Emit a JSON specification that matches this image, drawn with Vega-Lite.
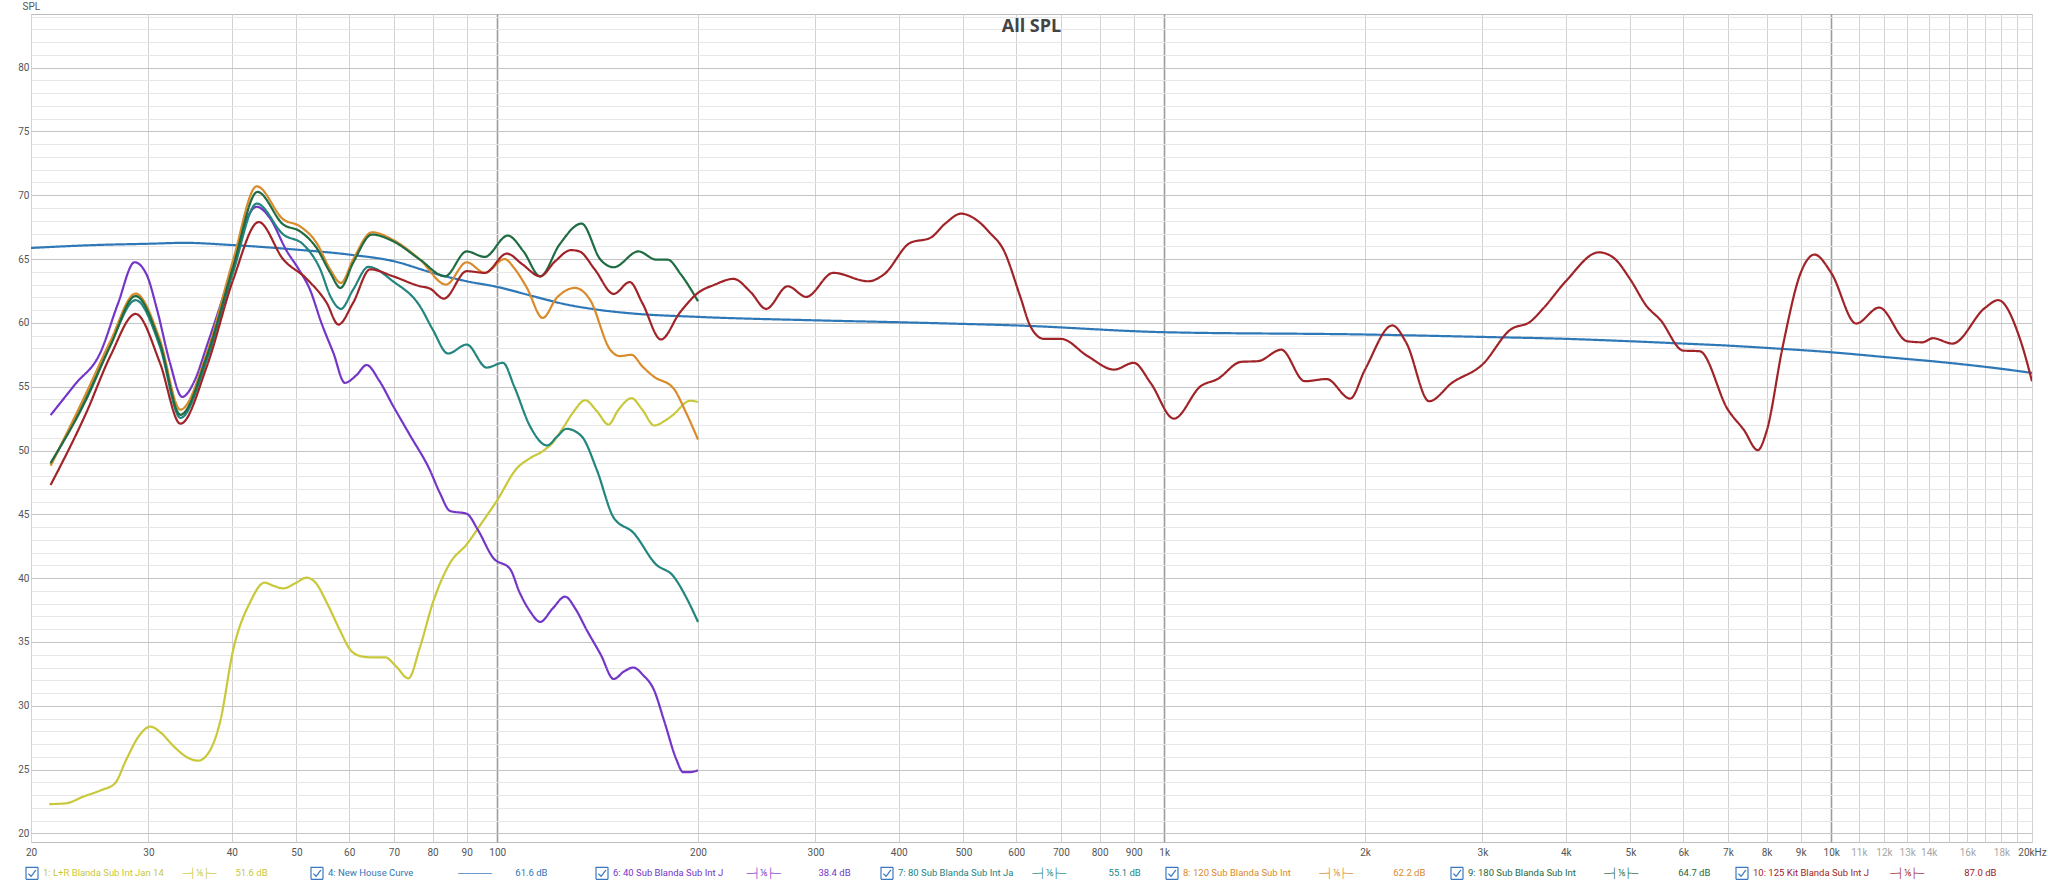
{
  "$schema": "https://vega.github.io/schema/vega-lite/v6.json",
  "width": 2001,
  "height": 828,
  "autosize": {"type": "none"},
  "padding": {"left": 31, "top": 14, "right": 16, "bottom": 41},
  "background": "#ffffff",
  "config": {"view": {"stroke": "#bdbdbd", "strokeWidth": 1}},
  "title": {"text": "All SPL", "fontSize": 18, "fontWeight": "bold", "color": "#444444", "font": "Open Sans", "anchor": "middle", "offset": -35},
  "data": {"values": [
    {"s":"1","f":21.3,"v":22.3},{"s":"1","f":22.5,"v":22.35},{"s":"1","f":24,"v":22.9},{"s":"1","f":25.5,"v":23.4},{"s":"1","f":26.7,"v":23.9},{"s":"1","f":27.8,"v":25.8},{"s":"1","f":29,"v":27.6},{"s":"1","f":30.2,"v":28.37},{"s":"1","f":31.3,"v":27.9},{"s":"1","f":32.7,"v":26.85},{"s":"1","f":34.2,"v":26.0},{"s":"1","f":35.6,"v":25.7},{"s":"1","f":37,"v":26.4},{"s":"1","f":38.4,"v":28.7},{"s":"1","f":40.2,"v":34.4},{"s":"1","f":42.6,"v":38.1},{"s":"1","f":44.8,"v":39.65},{"s":"1","f":46.2,"v":39.4},{"s":"1","f":47.8,"v":39.2},{"s":"1","f":49.8,"v":39.6},{"s":"1","f":51.8,"v":40.04},{"s":"1","f":53.5,"v":39.6},{"s":"1","f":55.5,"v":38.1},{"s":"1","f":58,"v":36.0},{"s":"1","f":60.2,"v":34.4},{"s":"1","f":62.3,"v":33.9},{"s":"1","f":64.5,"v":33.8},{"s":"1","f":67.9,"v":33.8},{"s":"1","f":70.5,"v":33.1},{"s":"1","f":73.6,"v":32.15},{"s":"1","f":76.5,"v":34.5},{"s":"1","f":80.1,"v":38.1},{"s":"1","f":85,"v":41.2},{"s":"1","f":90,"v":42.65},{"s":"1","f":95,"v":44.4},{"s":"1","f":99.7,"v":46.0},{"s":"1","f":107,"v":48.6},{"s":"1","f":112,"v":49.4},{"s":"1","f":117,"v":49.95},{"s":"1","f":121,"v":50.6},{"s":"1","f":125.6,"v":51.8},{"s":"1","f":130,"v":53.0},{"s":"1","f":135.5,"v":53.94},{"s":"1","f":141,"v":53.1},{"s":"1","f":146.8,"v":52.04},{"s":"1","f":152,"v":53.2},{"s":"1","f":159,"v":54.1},{"s":"1","f":165,"v":53.2},{"s":"1","f":172,"v":51.96},{"s":"1","f":178,"v":52.3},{"s":"1","f":183.6,"v":52.8},{"s":"1","f":194.6,"v":53.9},{"s":"1","f":200,"v":53.8},
    {"s":"4","f":20,"v":65.87},{"s":"4","f":25,"v":66.1},{"s":"4","f":30,"v":66.2},{"s":"4","f":34,"v":66.27},{"s":"4","f":40,"v":66.1},{"s":"4","f":50,"v":65.74},{"s":"4","f":60,"v":65.35},{"s":"4","f":70,"v":64.83},{"s":"4","f":80,"v":63.92},{"s":"4","f":90,"v":63.26},{"s":"4","f":100,"v":62.82},{"s":"4","f":113,"v":62.1},{"s":"4","f":127,"v":61.44},{"s":"4","f":143,"v":61.0},{"s":"4","f":160,"v":60.73},{"s":"4","f":200,"v":60.47},{"s":"4","f":300,"v":60.2},{"s":"4","f":400,"v":60.05},{"s":"4","f":500,"v":59.92},{"s":"4","f":600,"v":59.8},{"s":"4","f":1000,"v":59.27},{"s":"4","f":2000,"v":59.09},{"s":"4","f":3000,"v":58.9},{"s":"4","f":4000,"v":58.75},{"s":"4","f":5000,"v":58.56},{"s":"4","f":6000,"v":58.38},{"s":"4","f":7000,"v":58.22},{"s":"4","f":8000,"v":58.04},{"s":"4","f":10000,"v":57.7},{"s":"4","f":12000,"v":57.33},{"s":"4","f":15000,"v":56.87},{"s":"4","f":18000,"v":56.4},{"s":"4","f":20000,"v":56.08},
    {"s":"6","f":21.4,"v":52.77},{"s":"6","f":23.3,"v":55.2},{"s":"6","f":25.4,"v":57.65},{"s":"6","f":27,"v":61.5},{"s":"6","f":28.6,"v":64.75},{"s":"6","f":29.8,"v":63.8},{"s":"6","f":30.9,"v":61.05},{"s":"6","f":32.3,"v":56.9},{"s":"6","f":33.7,"v":54.2},{"s":"6","f":35.2,"v":55.5},{"s":"6","f":36.7,"v":58.2},{"s":"6","f":40.2,"v":64.6},{"s":"6","f":42,"v":68.0},{"s":"6","f":43.6,"v":69.1},{"s":"6","f":45.5,"v":68.3},{"s":"6","f":48.4,"v":65.6},{"s":"6","f":50.4,"v":64.2},{"s":"6","f":52.4,"v":62.6},{"s":"6","f":54.5,"v":60.0},{"s":"6","f":56.8,"v":57.65},{"s":"6","f":59.1,"v":55.3},{"s":"6","f":61.5,"v":55.9},{"s":"6","f":63.7,"v":56.7},{"s":"6","f":66.5,"v":55.5},{"s":"6","f":69.8,"v":53.5},{"s":"6","f":74,"v":51.2},{"s":"6","f":79.2,"v":48.5},{"s":"6","f":82,"v":46.7},{"s":"6","f":85,"v":45.26},{"s":"6","f":90,"v":45.05},{"s":"6","f":93.5,"v":43.8},{"s":"6","f":98.6,"v":41.6},{"s":"6","f":104.6,"v":40.7},{"s":"6","f":108,"v":38.9},{"s":"6","f":112,"v":37.4},{"s":"6","f":116,"v":36.57},{"s":"6","f":121,"v":37.6},{"s":"6","f":126.4,"v":38.55},{"s":"6","f":131,"v":37.6},{"s":"6","f":136,"v":36.0},{"s":"6","f":143,"v":34.0},{"s":"6","f":149.5,"v":32.1},{"s":"6","f":155,"v":32.7},{"s":"6","f":160,"v":33.0},{"s":"6","f":165.5,"v":32.4},{"s":"6","f":171.6,"v":31.3},{"s":"6","f":178,"v":28.8},{"s":"6","f":185.6,"v":25.8},{"s":"6","f":190,"v":24.8},{"s":"6","f":194,"v":24.8},{"s":"6","f":200,"v":24.95},
    {"s":"7","f":21.4,"v":48.9},{"s":"7","f":24.2,"v":54.26},{"s":"7","f":26.3,"v":58.3},{"s":"7","f":28.7,"v":61.78},{"s":"7","f":31.2,"v":58.17},{"s":"7","f":33.5,"v":52.56},{"s":"7","f":36.7,"v":57.1},{"s":"7","f":40.2,"v":64.0},{"s":"7","f":43.6,"v":69.35},{"s":"7","f":47.8,"v":66.92},{"s":"7","f":51.2,"v":66.14},{"s":"7","f":54.3,"v":64.18},{"s":"7","f":56.2,"v":62.1},{"s":"7","f":58.3,"v":61.1},{"s":"7","f":60.8,"v":62.6},{"s":"7","f":64.1,"v":64.39},{"s":"7","f":69.8,"v":63.26},{"s":"7","f":76.6,"v":61.3},{"s":"7","f":80,"v":59.5},{"s":"7","f":84.4,"v":57.6},{"s":"7","f":90,"v":58.3},{"s":"7","f":96.4,"v":56.5},{"s":"7","f":102,"v":56.87},{"s":"7","f":106,"v":55.04},{"s":"7","f":112,"v":51.9},{"s":"7","f":118.8,"v":50.4},{"s":"7","f":123,"v":51.1},{"s":"7","f":127,"v":51.7},{"s":"7","f":133.8,"v":51.12},{"s":"7","f":141,"v":48.5},{"s":"7","f":149.5,"v":44.74},{"s":"7","f":160,"v":43.56},{"s":"7","f":173,"v":41.08},{"s":"7","f":183.6,"v":40.17},{"s":"7","f":192,"v":38.5},{"s":"7","f":200,"v":36.57},
    {"s":"8","f":21.4,"v":48.8},{"s":"8","f":24.2,"v":54.5},{"s":"8","f":26.3,"v":58.56},{"s":"8","f":28.7,"v":62.3},{"s":"8","f":31.2,"v":58.7},{"s":"8","f":33.5,"v":53.2},{"s":"8","f":36.7,"v":57.65},{"s":"8","f":40.2,"v":64.96},{"s":"8","f":43.6,"v":70.7},{"s":"8","f":47.8,"v":68.1},{"s":"8","f":50.6,"v":67.57},{"s":"8","f":53.6,"v":66.27},{"s":"8","f":56.2,"v":64.18},{"s":"8","f":58.3,"v":63.13},{"s":"8","f":60.8,"v":64.96},{"s":"8","f":64.9,"v":67.1},{"s":"8","f":69.8,"v":66.5},{"s":"8","f":76.6,"v":64.96},{"s":"8","f":83.8,"v":63.0},{"s":"8","f":90,"v":64.75},{"s":"8","f":95.8,"v":63.92},{"s":"8","f":102.6,"v":65.0},{"s":"8","f":106,"v":64.3},{"s":"8","f":110.8,"v":62.74},{"s":"8","f":117,"v":60.39},{"s":"8","f":122.8,"v":61.96},{"s":"8","f":130.8,"v":62.74},{"s":"8","f":137.7,"v":61.83},{"s":"8","f":147.7,"v":57.9},{"s":"8","f":152.6,"v":57.4},{"s":"8","f":159,"v":57.5},{"s":"8","f":165,"v":56.6},{"s":"8","f":171.6,"v":55.8},{"s":"8","f":183.6,"v":54.9},{"s":"8","f":192,"v":52.95},{"s":"8","f":200,"v":50.86},
    {"s":"9","f":21.4,"v":49.03},{"s":"9","f":24.2,"v":54.0},{"s":"9","f":26.3,"v":58.2},{"s":"9","f":28.7,"v":62.1},{"s":"9","f":31.2,"v":58.43},{"s":"9","f":33.5,"v":52.8},{"s":"9","f":36.7,"v":57.4},{"s":"9","f":40.2,"v":64.4},{"s":"9","f":43.7,"v":70.26},{"s":"9","f":47.8,"v":67.7},{"s":"9","f":50.6,"v":67.18},{"s":"9","f":53.6,"v":65.87},{"s":"9","f":56.2,"v":63.92},{"s":"9","f":58.2,"v":62.74},{"s":"9","f":60.8,"v":64.7},{"s":"9","f":64.9,"v":66.92},{"s":"9","f":69.8,"v":66.4},{"s":"9","f":76.6,"v":64.96},{"s":"9","f":83.5,"v":63.65},{"s":"9","f":90,"v":65.6},{"s":"9","f":95.8,"v":65.17},{"s":"9","f":103.7,"v":66.84},{"s":"9","f":109.5,"v":65.6},{"s":"9","f":116,"v":63.65},{"s":"9","f":124,"v":66.14},{"s":"9","f":133.8,"v":67.78},{"s":"9","f":142.8,"v":64.96},{"s":"9","f":149.5,"v":64.36},{"s":"9","f":162.8,"v":65.6},{"s":"9","f":173,"v":64.96},{"s":"9","f":180,"v":64.96},{"s":"9","f":188.5,"v":63.8},{"s":"9","f":200,"v":61.7},
    {"s":"10","f":21.4,"v":47.3},{"s":"10","f":24.2,"v":52.95},{"s":"10","f":26.3,"v":57.4},{"s":"10","f":28.7,"v":60.7},{"s":"10","f":31.2,"v":56.9},{"s":"10","f":33.5,"v":52.1},{"s":"10","f":36.7,"v":56.6},{"s":"10","f":40.2,"v":63.4},{"s":"10","f":43.9,"v":67.9},{"s":"10","f":47.8,"v":64.96},{"s":"10","f":51.8,"v":63.45},{"s":"10","f":55.5,"v":61.57},{"s":"10","f":57.8,"v":59.87},{"s":"10","f":60.8,"v":61.57},{"s":"10","f":64.5,"v":64.2},{"s":"10","f":69.8,"v":63.65},{"s":"10","f":76.6,"v":62.87},{"s":"10","f":79.2,"v":62.7},{"s":"10","f":83.2,"v":61.9},{"s":"10","f":90,"v":64.05},{"s":"10","f":95.8,"v":63.92},{"s":"10","f":103.4,"v":65.43},{"s":"10","f":109,"v":64.6},{"s":"10","f":116,"v":63.65},{"s":"10","f":122,"v":64.8},{"s":"10","f":129,"v":65.7},{"s":"10","f":132.8,"v":65.6},{"s":"10","f":140,"v":64.2},{"s":"10","f":149.5,"v":62.27},{"s":"10","f":158,"v":63.2},{"s":"10","f":165,"v":61.57},{"s":"10","f":176,"v":58.7},{"s":"10","f":187.8,"v":60.8},{"s":"10","f":200,"v":62.35},{"s":"10","f":212,"v":63.0},{"s":"10","f":226,"v":63.45},{"s":"10","f":240,"v":62.4},{"s":"10","f":253,"v":61.1},{"s":"10","f":272.6,"v":62.87},{"s":"10","f":290.6,"v":62.04},{"s":"10","f":319,"v":63.92},{"s":"10","f":360,"v":63.26},{"s":"10","f":380,"v":63.8},{"s":"10","f":416,"v":66.27},{"s":"10","f":446,"v":66.66},{"s":"10","f":470,"v":67.8},{"s":"10","f":496,"v":68.56},{"s":"10","f":525,"v":68.0},{"s":"10","f":548,"v":67.05},{"s":"10","f":574,"v":65.74},{"s":"10","f":608,"v":62.1},{"s":"10","f":630,"v":59.74},{"s":"10","f":660,"v":58.75},{"s":"10","f":700,"v":58.75},{"s":"10","f":768,"v":57.39},{"s":"10","f":841,"v":56.34},{"s":"10","f":900,"v":56.87},{"s":"10","f":954,"v":55.3},{"s":"10","f":1034,"v":52.5},{"s":"10","f":1134,"v":55.04},{"s":"10","f":1202,"v":55.6},{"s":"10","f":1304,"v":56.95},{"s":"10","f":1382,"v":57.0},{"s":"10","f":1498,"v":57.9},{"s":"10","f":1624,"v":55.43},{"s":"10","f":1752,"v":55.6},{"s":"10","f":1900,"v":54.07},{"s":"10","f":2000,"v":56.34},{"s":"10","f":2198,"v":59.8},{"s":"10","f":2307,"v":58.43},{"s":"10","f":2496,"v":53.86},{"s":"10","f":2700,"v":55.3},{"s":"10","f":3000,"v":56.74},{"s":"10","f":3306,"v":59.48},{"s":"10","f":3540,"v":60.1},{"s":"10","f":3706,"v":61.17},{"s":"10","f":4000,"v":63.26},{"s":"10","f":4486,"v":65.53},{"s":"10","f":4720,"v":65.09},{"s":"10","f":5000,"v":63.39},{"s":"10","f":5290,"v":61.3},{"s":"10","f":5540,"v":60.26},{"s":"10","f":6000,"v":57.83},{"s":"10","f":6350,"v":57.78},{"s":"10","f":7000,"v":53.2},{"s":"10","f":7400,"v":51.6},{"s":"10","f":7760,"v":50.03},{"s":"10","f":8000,"v":51.5},{"s":"10","f":8460,"v":58.17},{"s":"10","f":9000,"v":63.92},{"s":"10","f":9440,"v":65.35},{"s":"10","f":10000,"v":63.92},{"s":"10","f":10900,"v":59.95},{"s":"10","f":11800,"v":61.2},{"s":"10","f":13000,"v":58.56},{"s":"10","f":13700,"v":58.48},{"s":"10","f":14200,"v":58.8},{"s":"10","f":15200,"v":58.38},{"s":"10","f":17000,"v":61.17},{"s":"10","f":17800,"v":61.78},{"s":"10","f":19200,"v":58.7},{"s":"10","f":20000,"v":55.43}
  ]},
  "mark": {"type": "line", "interpolate": "monotone", "strokeWidth": 2.2, "clip": true, "color": "#3a78c0"},
  "encoding": {
    "x": {"field": "f", "type": "quantitative",
      "scale": {"type": "log", "domain": [20, 20000], "nice": false, "zero": false},
      "axis": {"title": null, "domain": false, "ticks": false, "labelOverlap": false, "labelFlush": false, "labelBound": false,
        "values": [20,30,40,50,60,70,80,90,100,200,300,400,500,600,700,800,900,1000,2000,3000,4000,5000,6000,7000,8000,9000,10000,11000,12000,13000,14000,15000,16000,17000,18000,19000,20000],
        "labelExpr": "datum.value == 20000 ? '20kHz' : (datum.value == 15000 || datum.value == 17000 || datum.value == 19000) ? '' : datum.value >= 1000 ? (datum.value / 1000) + 'k' : '' + datum.value",
        "labelFont": "Roboto", "labelFontSize": 10, "labelPadding": 5,
        "labelColor": {"condition": {"test": "datum.value > 10000 && datum.value < 20000", "value": "#a6a6a6"}, "value": "#555555"},
        "gridColor": {"condition": {"test": "datum.value == 100 || datum.value == 1000 || datum.value == 10000", "value": "#9c9c9c"}, "value": "#d2d2d2"},
        "gridWidth": {"condition": {"test": "datum.value == 100 || datum.value == 1000 || datum.value == 10000", "value": 1.6}, "value": 1}
      }},
    "y": {"field": "v", "type": "quantitative",
      "scale": {"domain": [19.33, 84.2], "nice": false, "zero": false},
      "axis": {"domain": false, "ticks": false, "labelOverlap": false, "labelFlush": false, "labelBound": false,
        "values": [20,21,22,23,24,25,26,27,28,29,30,31,32,33,34,35,36,37,38,39,40,41,42,43,44,45,46,47,48,49,50,51,52,53,54,55,56,57,58,59,60,61,62,63,64,65,66,67,68,69,70,71,72,73,74,75,76,77,78,79,80,81,82,83,84],
        "labelExpr": "datum.value % 5 == 0 ? '' + datum.value : ''",
        "labelFont": "Roboto", "labelFontSize": 10, "labelColor": "#555555", "labelPadding": 2,
        "gridColor": {"condition": {"test": "datum.value % 5 == 0", "value": "#c4c4c4"}, "value": "#e6e6e6"},
        "title": "SPL", "titleAngle": 0, "titleX": -9, "titleY": -8, "titleAlign": "left", "titleBaseline": "middle",
        "titleFont": "Roboto", "titleFontSize": 10, "titleFontWeight": "normal", "titleColor": "#555555"
      }},
    "color": {"field": "s", "type": "nominal",
      "scale": {"domain": ["1","4","6","7","8","9","10"], "range": ["#c8c83a","#2f78b8","#7436c8","#22857e","#d98b2c","#1f6b42","#a02328"]},
      "legend": {"orient": "right", "disable": true}},
    "strokeDash": {"field": "s", "type": "nominal",
      "scale": {"domain": ["1","4","6","7","8","9","10"], "range": [[1,0],[1,0],[1,0],[1,0],[1,0],[1,0],[1,0]]},
      "legend": {"title": null, "orient": "none", "legendX": -6, "legendY": 852, "direction": "horizontal", "columns": 7,
        "gridAlign": "all", "columnPadding": 21,
        "symbolType": "M-1,-1H1V1H-1Z M-0.6,0.05L-0.15,0.5L0.65,-0.55",
        "symbolSize": 144, "symbolStrokeColor": "#3a78c0", "symbolFillColor": "#ffffff", "symbolStrokeWidth": 1.2,
        "labelFont": "Roboto", "labelFontSize": 9.5, "labelLimit": 500, "labelOffset": 4,
        "labelColor": {"expr": "({'1': '#c8c83a', '4': '#2f78b8', '6': '#7436c8', '7': '#22857e', '8': '#d98b2c', '9': '#1f6b42', '10': '#a02328'})[datum.value]"},
        "labelExpr": "({'1': '1: L+R Blanda Sub Int Jan 14\u00a0\u00a0\u00a0\u00a0\u00a0\u00a0\u00a0\u00a0\u2500\u2524\u2159\u251c\u2500\u00a0\u00a0\u00a0\u00a0\u00a0\u00a0\u00a0\u00a051.6 dB', '4': '4: New House Curve\u00a0\u00a0\u00a0\u00a0\u00a0\u00a0\u00a0\u00a0\u00a0\u00a0\u00a0\u00a0\u00a0\u00a0\u00a0\u00a0\u00a0\u00a0\u00a0\u2500\u2500\u2500\u2500\u2500\u00a0\u00a0\u00a0\u00a0\u00a0\u00a0\u00a0\u00a0\u00a0\u00a061.6 dB', '6': '6: 40 Sub Blanda Sub Int J\u00a0\u00a0\u00a0\u00a0\u00a0\u00a0\u00a0\u00a0\u00a0\u00a0\u2500\u2524\u2159\u251c\u2500\u00a0\u00a0\u00a0\u00a0\u00a0\u00a0\u00a0\u00a0\u00a0\u00a0\u00a0\u00a0\u00a0\u00a0\u00a0\u00a038.4 dB', '7': '7: 80 Sub Blanda Sub Int Ja\u00a0\u00a0\u00a0\u00a0\u00a0\u00a0\u00a0\u00a0\u2500\u2524\u2159\u251c\u2500\u00a0\u00a0\u00a0\u00a0\u00a0\u00a0\u00a0\u00a0\u00a0\u00a0\u00a0\u00a0\u00a0\u00a0\u00a0\u00a0\u00a0\u00a055.1 dB', '8': '8: 120 Sub Blanda Sub Int\u00a0\u00a0\u00a0\u00a0\u00a0\u00a0\u00a0\u00a0\u00a0\u00a0\u00a0\u00a0\u2500\u2524\u2159\u251c\u2500\u00a0\u00a0\u00a0\u00a0\u00a0\u00a0\u00a0\u00a0\u00a0\u00a0\u00a0\u00a0\u00a0\u00a0\u00a0\u00a0\u00a062.2 dB', '9': '9: 180 Sub Blanda Sub Int\u00a0\u00a0\u00a0\u00a0\u00a0\u00a0\u00a0\u00a0\u00a0\u00a0\u00a0\u00a0\u2500\u2524\u2159\u251c\u2500\u00a0\u00a0\u00a0\u00a0\u00a0\u00a0\u00a0\u00a0\u00a0\u00a0\u00a0\u00a0\u00a0\u00a0\u00a0\u00a0\u00a064.7 dB', '10': '10: 125 Kit Blanda Sub Int J\u00a0\u00a0\u00a0\u00a0\u00a0\u00a0\u00a0\u00a0\u00a0\u2500\u2524\u2159\u251c\u2500\u00a0\u00a0\u00a0\u00a0\u00a0\u00a0\u00a0\u00a0\u00a0\u00a0\u00a0\u00a0\u00a0\u00a0\u00a0\u00a0\u00a087.0 dB'})[datum.value]"
      }}
  }
}
